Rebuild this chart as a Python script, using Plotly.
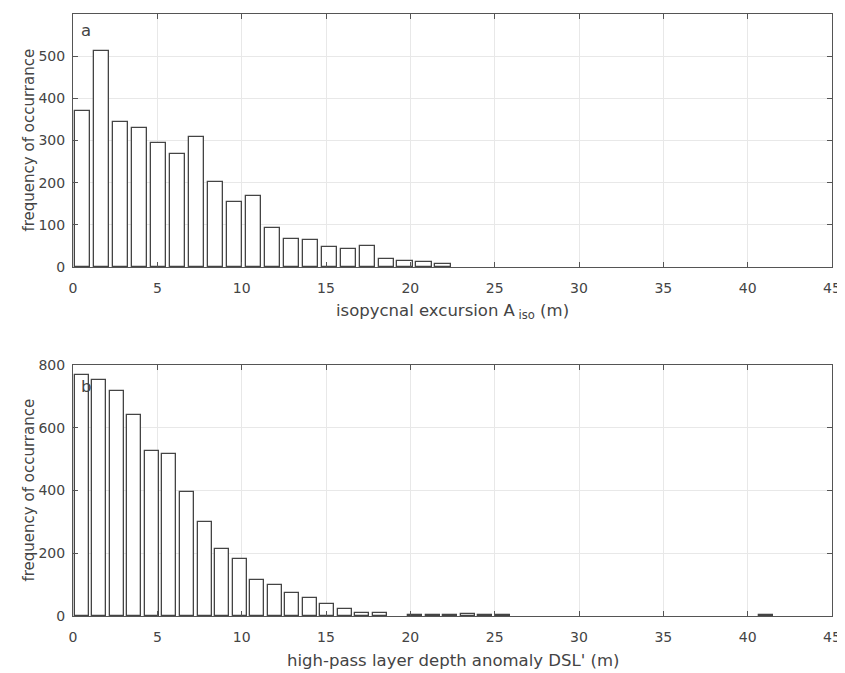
import numpy as np
import plotly.graph_objects as go

# ---- data ----
n_bins = 40
range_a = 45.0
range_b = 41.6
counts_a = [370, 512, 345, 330, 294, 267, 308, 201, 155, 169,
            92, 67, 63, 47, 43, 50, 20, 15, 13, 6,
            0, 0, 0, 0, 0, 0, 0, 0, 0, 0,
            0, 0, 0, 0, 0, 0, 0, 0, 0, 1]
counts_b = [768, 752, 716, 640, 527, 517, 396, 298, 215, 181,
            115, 99, 74, 57, 38, 23, 11, 9, 0, 2,
            2, 2, 5, 2, 2, 1, 1, 1, 0, 1,
            1, 0, 0, 0, 0, 0, 0, 0, 0, 3]
x_ticks = [0, 5, 10, 15, 20, 25, 30, 35, 40, 45]
y_ticks_a = [0, 100, 200, 300, 400, 500, 600]
y_ticks_b = [0, 200, 400, 600, 800]
ylabel = "frequency of occurrance"
xlabel_a = "isopycnal excursion A<sub> iso</sub> (m)"
xlabel_b = "high-pass layer depth anomaly DSL' (m)"

w_a = range_a / n_bins
w_b = range_b / n_bins
centers_a = (np.arange(n_bins) + 0.5) * w_a
centers_b = (np.arange(n_bins) + 0.5) * w_b
ca = np.array(counts_a, dtype=float)
cb = np.array(counts_b, dtype=float)
ma = ca > 1
mb = cb > 1

edge = "#444444"
txt = "#444444"
tick_font = dict(family="DejaVu Sans, sans-serif", size=14, color=txt)
ylab_font = dict(family="DejaVu Sans, sans-serif", size=15, color=txt)
xlab_font = dict(family="DejaVu Sans, sans-serif", size=16.5, color=txt)

fig = go.Figure()
fig.add_trace(go.Bar(x=centers_a[ma], y=ca[ma], width=0.8 * w_a,
                     marker=dict(color="white", line=dict(color=edge, width=1.3)),
                     xaxis="x", yaxis="y", showlegend=False))
fig.add_trace(go.Bar(x=centers_b[mb], y=cb[mb], width=0.8 * w_b,
                     marker=dict(color="white", line=dict(color=edge, width=1.3)),
                     xaxis="x2", yaxis="y2", showlegend=False))

axis_common = dict(showline=True, linecolor="#555555", linewidth=1, mirror="ticks",
                   showgrid=True, gridcolor="#e8e8e8", gridwidth=1,
                   ticks="inside", ticklen=5, tickcolor="#555555",
                   zeroline=False, tickfont=tick_font, automargin=False)

# page body adds an 8px offset, so the figure is sized/margined to compensate
fig.update_layout(
    width=837, height=665,
    margin=dict(l=65, r=13, t=6, b=57),
    paper_bgcolor="white", plot_bgcolor="white",
    font=tick_font, bargap=0,
    xaxis=dict(domain=[0, 1], anchor="y", range=[0, 45], tickvals=x_ticks,
               ticklabelstandoff=8, **axis_common),
    yaxis=dict(domain=[0.5797, 1], anchor="x", range=[0, 600], tickvals=y_ticks_a,
               ticklabelstandoff=4, **axis_common),
    xaxis2=dict(domain=[0, 1], anchor="y2", range=[0, 45], tickvals=x_ticks,
                ticklabelstandoff=8, **axis_common),
    yaxis2=dict(domain=[0, 0.4169], anchor="x2", range=[0, 800], tickvals=y_ticks_b,
                ticklabelstandoff=4, **axis_common),
    annotations=[
        dict(text="a", xref="x", yref="y", x=0.77, y=560, showarrow=False,
             font=xlab_font),
        dict(text="b", xref="x2", yref="y2", x=0.77, y=733, showarrow=False,
             font=xlab_font),
        dict(text=xlabel_a, xref="x domain", yref="y domain", x=0.5, y=0,
             yshift=-44, yanchor="middle", showarrow=False, font=xlab_font),
        dict(text=xlabel_b, xref="x2 domain", yref="y2 domain", x=0.5, y=0,
             yshift=-44, yanchor="middle", showarrow=False, font=xlab_font),
        dict(text=ylabel, xref="x domain", yref="y domain", x=0, y=0.5,
             xshift=-55, textangle=-90, showarrow=False, font=ylab_font),
        dict(text=ylabel, xref="x2 domain", yref="y2 domain", x=0, y=0.5,
             xshift=-55, textangle=-90, showarrow=False, font=ylab_font),
    ],
)

fig.write_html("out.html")
